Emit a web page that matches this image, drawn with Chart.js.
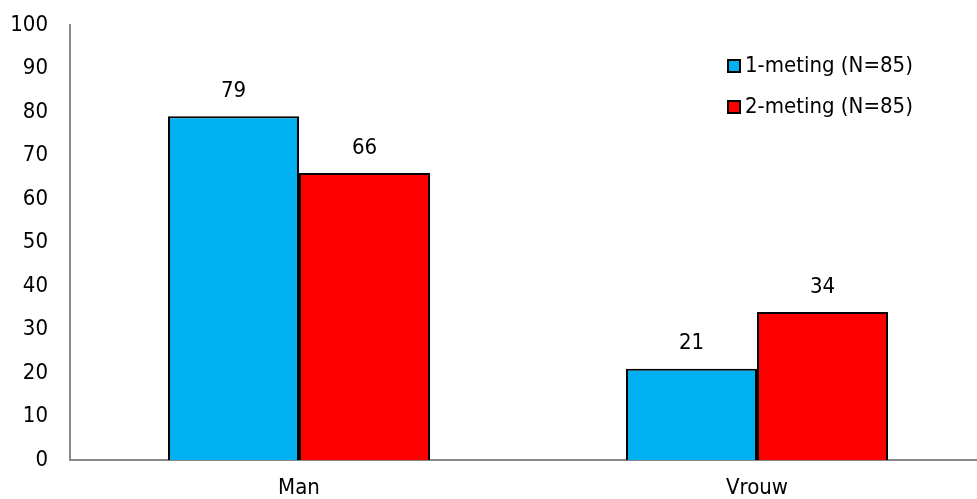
<!DOCTYPE html>
<html>
<head>
<meta charset="utf-8">
<script src="https://cdn.jsdelivr.net/npm/chart.js@4"></script>
<style>
  html, body { margin: 0; padding: 0; background: #fff; }
  #frame { width: 977px; height: 499px; overflow: hidden; position: relative; }
</style>
</head>
<body>
<div id="frame">
  <canvas id="chart" width="986" height="499"></canvas>
</div>
<script>
// Geslacht per meting (%)
const categories = ["Man", "Vrouw"];
const seriesNames = ["1-meting (N=85)", "2-meting (N=85)"];
const meting1 = [79, 21];
const meting2 = [66, 34];
const yTicks = [0, 10, 20, 30, 40, 50, 60, 70, 80, 90, 100];

const FONT = "'DejaVu Sans Condensed', 'DejaVu Sans', sans-serif";
const SIZE = 22;
const BLUE = "#00b0f0";
const RED = "#ff0000";
const AXIS = "#898989";

// waarde boven elke staaf
const valueLabels = {
  id: "valueLabels",
  afterDatasetsDraw(chart) {
    const ctx = chart.ctx;
    ctx.save();
    ctx.font = SIZE + "px " + FONT;
    ctx.fillStyle = "#000";
    ctx.textAlign = "center";
    ctx.textBaseline = "middle";
    chart.data.datasets.forEach((ds, i) => {
      chart.getDatasetMeta(i).data.forEach((bar, j) => {
        ctx.fillText(String(ds.data[j]), bar.x, bar.y - 25);
      });
    });
    ctx.restore();
  }
};

// legenda rechtsboven, vierkantje + tekst
const boxLegend = {
  id: "boxLegend",
  afterDraw(chart) {
    const ctx = chart.ctx;
    ctx.save();
    ctx.font = SIZE + "px " + FONT;
    ctx.textBaseline = "middle";
    chart.data.datasets.forEach((ds, i) => {
      const y = 66 + i * 41;
      ctx.fillStyle = ds.backgroundColor;
      ctx.fillRect(728, y - 6, 12, 12);
      ctx.strokeStyle = "#000";
      ctx.lineWidth = 2;
      ctx.strokeRect(728, y - 6, 12, 12);
      ctx.fillStyle = "#000";
      ctx.textAlign = "left";
      ctx.fillText(ds.label, 745, y);
    });
    ctx.restore();
  }
};

new Chart(document.getElementById("chart"), {
  type: "bar",
  data: {
    labels: categories,
    datasets: [
      { label: seriesNames[0], data: meting1, backgroundColor: BLUE, borderColor: "#000", borderWidth: 2 },
      { label: seriesNames[1], data: meting2, backgroundColor: RED, borderColor: "#000", borderWidth: 2 }
    ]
  },
  options: {
    responsive: false,
    animation: false,
    layout: { autoPadding: false, padding: { top: 25, right: 0, bottom: 0, left: 0 } },
    datasets: { bar: { categoryPercentage: 0.572, barPercentage: 1 } },
    plugins: { legend: { display: false }, tooltip: { enabled: false } },
    scales: {
      x: {
        grid: { display: false, drawTicks: false },
        border: { color: AXIS, width: 2 },
        ticks: { color: "#000", font: { family: FONT, size: SIZE }, padding: 15 },
        afterFit: s => { s.height = 39; s.paddingLeft = 0; s.paddingRight = 0; }
      },
      y: {
        min: 0,
        max: 100,
        afterBuildTicks: s => { s.ticks = yTicks.map(v => ({ value: v })); },
        grid: { display: false, drawTicks: false },
        border: { color: AXIS, width: 2 },
        ticks: { color: "#000", font: { family: FONT, size: SIZE }, padding: 22 },
        afterFit: s => { s.width = 70; s.paddingTop = 0; s.paddingBottom = 0; }
      }
    }
  },
  plugins: [valueLabels, boxLegend]
});
</script>
</body>
</html>
